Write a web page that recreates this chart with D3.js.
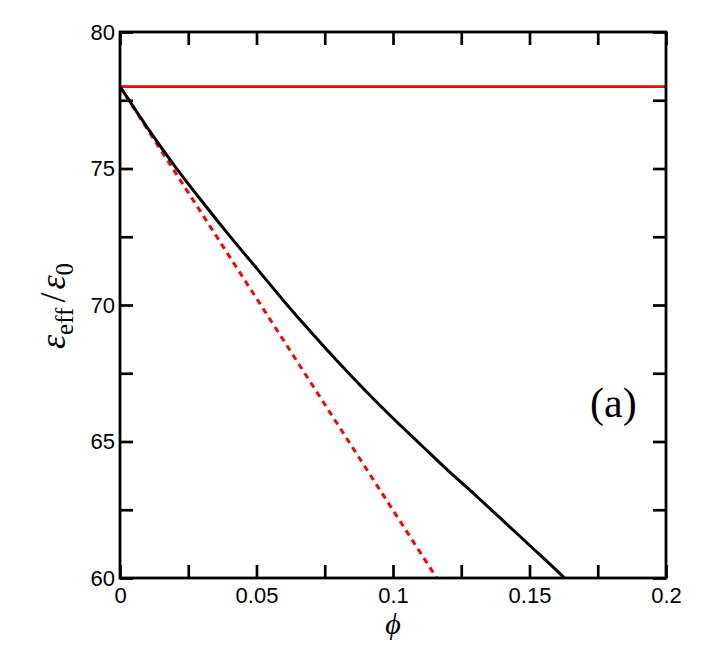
<!DOCTYPE html>
<html>
<head>
<meta charset="utf-8">
<script src="https://d3js.org/d3.v7.min.js"></script>
<style>
  body { margin: 0; background: #fff; }
  .axis text { font-family: "Liberation Sans", Arial, sans-serif; font-size: 22px; fill: #000; }
  .axis line { stroke: #000; stroke-width: 2.7px; }
  .axis path { display: none; }
  .serif { font-family: "Liberation Serif", "Times New Roman", "DejaVu Serif", serif; fill: #000; }
</style>
</head>
<body>
<div id="chart"></div>
<script>
// values
var phiBlack = [0, 0.01, 0.02, 0.03, 0.04, 0.05, 0.06, 0.07, 0.08, 0.09, 0.10, 0.11, 0.12, 0.13, 0.14, 0.15, 0.16, 0.1628];
var epsBlack = [78, 76.5, 75.1, 73.8, 72.55, 71.35, 70.15, 69.0, 67.9, 66.85, 65.85, 64.9, 63.95, 63.05, 62.13, 61.2, 60.27, 60.0];
var phiDashed = [0, 0.116];
var epsDashed = [78, 60];
var phiFlat = [0, 0.2];
var epsFlat = [78, 78];

var xTicks = [0, 0.025, 0.05, 0.075, 0.1, 0.125, 0.15, 0.175, 0.2];
var xTickLabels = {"0": "0", "0.05": "0.05", "0.1": "0.1", "0.15": "0.15", "0.2": "0.2"};
var yTicks = [60, 62.5, 65, 67.5, 70, 72.5, 75, 77.5, 80];
var yTickLabels = {"60": "60", "65": "65", "70": "70", "75": "75", "80": "80"};

var margin = {top: 32, right: 40, bottom: 75, left: 120},
    width = 706 - margin.left - margin.right,
    height = 546;

var svg = d3.select("#chart")
  .append("svg")
    .attr("width", 706)
    .attr("height", 653)
  .append("g")
    .attr("transform", "translate(" + margin.left + "," + margin.top + ")");

var x = d3.scaleLinear().domain([0, 0.2]).range([0, width]);
var y = d3.scaleLinear().domain([60, 80]).range([height, 0]);

svg.append("clipPath").attr("id", "clip")
  .append("rect").attr("width", width).attr("height", height);

// ticks (pointing inward)
svg.append("g").attr("class", "axis")
  .attr("transform", "translate(0," + height + ")")
  .call(d3.axisBottom(x).tickValues(xTicks).tickSizeInner(-13).tickSizeOuter(0).tickPadding(9)
    .tickFormat(function(d) { return xTickLabels[String(+d.toFixed(3))] || ""; }));
svg.append("g").attr("class", "axis")
  .call(d3.axisTop(x).tickValues(xTicks).tickSizeInner(-13).tickSizeOuter(0).tickFormat(""));
svg.append("g").attr("class", "axis")
  .call(d3.axisLeft(y).tickValues(yTicks).tickSizeInner(-13).tickSizeOuter(0).tickPadding(5)
    .tickFormat(function(d) { return yTickLabels[String(d)] || ""; }));
svg.append("g").attr("class", "axis")
  .attr("transform", "translate(" + width + ",0)")
  .call(d3.axisRight(y).tickValues(yTicks).tickSizeInner(-13).tickSizeOuter(0).tickFormat(""));

var line = d3.line()
  .x(function(d) { return x(d[0]); })
  .y(function(d) { return y(d[1]); });

var curves = svg.append("g").attr("clip-path", "url(#clip)");

curves.append("path")
  .datum(d3.zip(phiFlat, epsFlat))
  .attr("d", line)
  .attr("fill", "none")
  .attr("stroke", "#ff0000")
  .attr("stroke-width", 2.8);

curves.append("path")
  .datum(d3.zip(phiDashed, epsDashed))
  .attr("d", line)
  .attr("fill", "none")
  .attr("stroke", "#ff0000")
  .attr("stroke-width", 3)
  .attr("stroke-dasharray", "6,5");

curves.append("path")
  .datum(d3.zip(phiBlack, epsBlack))
  .attr("d", line.curve(d3.curveMonotoneX))
  .attr("fill", "none")
  .attr("stroke", "#000")
  .attr("stroke-width", 3);

// frame
svg.append("rect")
  .attr("width", width)
  .attr("height", height)
  .attr("fill", "none")
  .attr("stroke", "#000")
  .attr("stroke-width", 2.8);

// axis titles
svg.append("text")
  .attr("class", "serif")
  .attr("x", width / 2)
  .attr("y", 634 - margin.top)
  .attr("text-anchor", "middle")
  .style("font-style", "italic")
  .style("font-size", "30px")
  .text("ϕ");

var ylab = svg.append("text")
  .attr("class", "serif")
  .attr("transform", "translate(" + (65 - margin.left) + "," + (306 - margin.top) + ") rotate(-90)")
  .attr("text-anchor", "middle")
  .style("font-size", "36px");
ylab.append("tspan").style("font-style", "italic").text("ε");
ylab.append("tspan").style("font-size", "25px").attr("dy", 8).text("eff");
ylab.append("tspan").attr("dy", -8).attr("dx", 5).text("/");
ylab.append("tspan").style("font-style", "italic").attr("dx", 3).text("ε");
ylab.append("tspan").style("font-size", "25px").attr("dy", 8).text("0");

svg.append("text")
  .attr("class", "serif")
  .attr("x", 590 - margin.left)
  .attr("y", 417 - margin.top)
  .style("font-size", "42px")
  .text("(a)");
</script>
</body>
</html>
